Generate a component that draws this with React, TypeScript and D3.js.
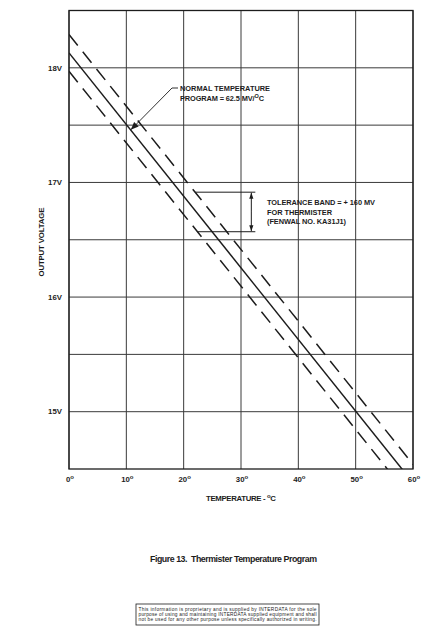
import React from "react";
import * as d3 from "d3";

// temperature ticks (°C) and voltage gridlines (V)
const tempTicks = [0, 10, 20, 30, 40, 50, 60];
const voltGrid = [15, 15.5, 16, 16.5, 17, 17.5, 18];
const voltLabels = [15, 16, 17, 18];

// program lines: [temp, volts]
const nominalLine: [number, number][] = [[0, 18.13], [60, 14.38]];
const upperLine: [number, number][] = [[0, 18.29], [60, 14.54]];
const lowerLine: [number, number][] = [[0, 17.97], [60, 14.22]];

const footerLines = [
  "This information is proprietary and is supplied by INTERDATA for the sole",
  "purpose of using and maintaining INTERDATA supplied equipment and shall",
  "not be used for any other purpose unless specifically authorized in writing.",
];

const W = 439;
const H = 626;
const plot = { left: 69, right: 413, top: 10.5, bottom: 469 };
const ink = "#1c1c1c";
const font = "'Liberation Sans', Arial, Helvetica, sans-serif";

const App: React.FC = () => {
  const x = d3.scaleLinear().domain([0, 60]).range([plot.left, plot.right]);
  const y = d3.scaleLinear().domain([14.5, 18.5]).range([plot.bottom, plot.top]);

  const line = d3.line<[number, number]>()
    .x(d => x(d[0]))
    .y(d => y(d[1]));

  // value of a straight program line at a temperature
  const at = (l: [number, number][], t: number) =>
    d3.scaleLinear().domain([l[0][0], l[1][0]]).range([l[0][1], l[1][1]])(t);

  // tolerance bracket position
  const bT0 = 22, bT1 = 32.5, bArrowT = 31.8;
  const bTop = y(at(upperLine, bT0));
  const bBot = y(at(lowerLine, bT0 + 0.4));

  // normal program leader
  const tipT = 10.6;
  const tipX = x(tipT), tipY = y(at(nominalLine, tipT));

  return (
    <svg
      width={W}
      height={H}
      style={{ position: "absolute", left: 0, top: 0, background: "#fff" }}
      fontFamily={font}
    >
      <defs>
        <clipPath id="plotClip">
          <rect x={plot.left} y={plot.top} width={plot.right - plot.left} height={plot.bottom - plot.top} />
        </clipPath>
        <marker id="arrow" viewBox="0 0 10 10" refX="10" refY="5" markerWidth="6" markerHeight="6" orient="auto-start-reverse" markerUnits="userSpaceOnUse">
          <path d="M0,1.5 L10,5 L0,8.5 Z" fill={ink} />
        </marker>
        <marker id="leadArrow" viewBox="0 0 10 10" refX="10" refY="5" markerWidth="8" markerHeight="8" orient="auto" markerUnits="userSpaceOnUse">
          <path d="M0,1 L10,5 L0,9 Z" fill={ink} />
        </marker>
      </defs>

      {/* grid */}
      <g stroke="#3a3a3a" strokeWidth={1}>
        {tempTicks.map(t => (
          <line key={"v" + t} x1={x(t)} x2={x(t)} y1={plot.top} y2={plot.bottom} />
        ))}
        {voltGrid.map(v => (
          <line key={"h" + v} x1={plot.left} x2={plot.right} y1={y(v)} y2={y(v)} />
        ))}
      </g>
      <rect x={plot.left} y={plot.top} width={plot.right - plot.left} height={plot.bottom - plot.top}
        fill="none" stroke={ink} strokeWidth={1.3} />

      {/* program lines */}
      <g clipPath="url(#plotClip)" fill="none" stroke={ink} strokeWidth={1.5}>
        <path d={line(nominalLine) ?? ""} />
        <path d={line(upperLine) ?? ""} strokeDasharray="14 8" />
        <path d={line(lowerLine) ?? ""} strokeDasharray="14 8" />
      </g>

      {/* y tick labels */}
      <g fontSize={7.8} fontWeight="bold" fill={ink} textAnchor="end">
        {voltLabels.map(v => (
          <text key={v} x={62} y={y(v)} dy="0.35em">{v}V</text>
        ))}
      </g>

      {/* x tick labels */}
      <g fontSize={7.8} fontWeight="bold" fill={ink} textAnchor="middle">
        {tempTicks.map(t => (
          <text key={t} x={x(t) + 1} y={482}>
            {t}<tspan fontSize={6} dy={-3}>o</tspan>
          </text>
        ))}
      </g>

      {/* axis titles */}
      <text x={241} y={501} textAnchor="middle" fontSize={7.8} fontWeight="bold" fill={ink} textLength={70}>
        TEMPERATURE - <tspan fontSize={6} dy={-3}>o</tspan><tspan dy={3}>C</tspan>
      </text>
      <text transform={`translate(44,242) rotate(-90)`} textAnchor="middle" fontSize={7.8} fontWeight="bold" fill={ink} textLength={69}>
        OUTPUT VOLTAGE
      </text>

      {/* normal temperature annotation */}
      <polyline points={`178,88 172,88 ${tipX + 1},${tipY + 1}`} fill="none" stroke={ink} strokeWidth={0.9} markerEnd="url(#leadArrow)" />
      <g fontSize={7.4} fontWeight="bold" fill={ink}>
        <text x={180} y={91} textLength={90}>NORMAL TEMPERATURE</text>
        <text x={180} y={101} textLength={84}>
          PROGRAM = 62.5 MV/<tspan fontSize={5.5} dy={-3}>O</tspan><tspan dy={3}>C</tspan>
        </text>
      </g>

      {/* tolerance band annotation */}
      <g stroke={ink} strokeWidth={1}>
        <line x1={x(bT0)} x2={x(bT1)} y1={bTop} y2={bTop} />
        <line x1={x(bT0 + 0.4)} x2={x(bT1)} y1={bBot} y2={bBot} />
        <line x1={x(bArrowT)} x2={x(bArrowT)} y1={(bTop + bBot) / 2} y2={bTop + 0.5} markerEnd="url(#arrow)" />
        <line x1={x(bArrowT)} x2={x(bArrowT)} y1={(bTop + bBot) / 2} y2={bBot - 0.5} markerEnd="url(#arrow)" />
      </g>
      <g fontSize={7.4} fontWeight="bold" fill={ink}>
        <text x={267} y={205} textLength={108}>TOLERANCE BAND = + 160 MV</text>
        <text x={267} y={214.5} textLength={65}>FOR THERMISTER</text>
        <text x={267} y={223.5} textLength={79}>(FENWAL NO. KA31J1)</text>
      </g>

      {/* caption */}
      <text x={150} y={562} fontSize={8.8} fontWeight="bold" fill={ink} textLength={167} lengthAdjust="spacing" xmlSpace="preserve">
        Figure 13.  Thermister Temperature Program
      </text>

      {/* proprietary notice */}
      <rect x={136} y={604} width={183} height={21} fill="none" stroke={ink} strokeWidth={0.8} />
      <g fontSize={4.8} fill={ink}>
        {footerLines.map((s, i) => (
          <text key={i} x={138.5} y={610.5 + i * 5.2} textLength={178} lengthAdjust="spacing">{s}</text>
        ))}
      </g>
    </svg>
  );
};

export default App;
